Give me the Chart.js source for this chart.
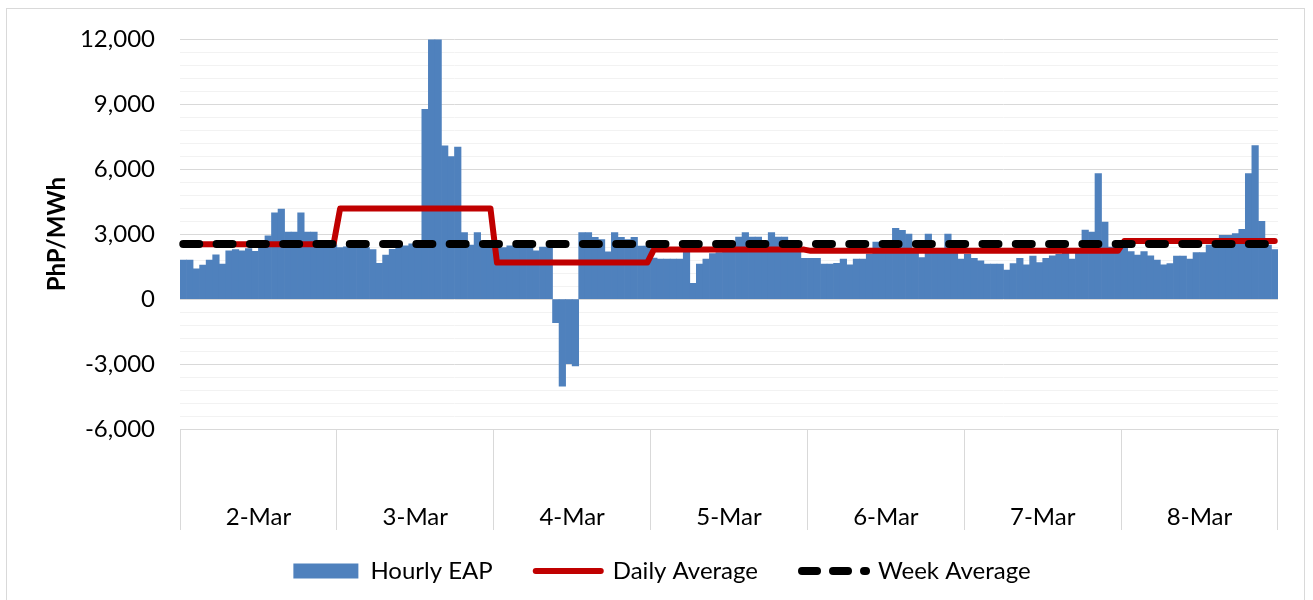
<!DOCTYPE html>
<html>
<head>
<meta charset="utf-8">
<title>Hourly EAP</title>
<script src="https://cdn.jsdelivr.net/npm/chart.js@4.4.1/dist/chart.umd.min.js"></script>
<style>
    html, body { margin: 0; padding: 0; background: #fff; }
    #wrap { position: relative; width: 1313px; height: 600px; }
    #frame { position: absolute; left: 6px; top: 8px; width: 1299px; height: 600px; border: 1px solid #d9d9d9; box-sizing: border-box; }
    #chart-box { position: absolute; left: 0; top: 0; width: 1313px; height: 600px; }
</style>
</head>
<body>
<div id="wrap">
    <div id="frame"></div>
    <div id="chart-box"><canvas id="eap-chart"></canvas></div>
</div>
<script>
// Jours et heures
const days = ['2-Mar', '3-Mar', '4-Mar', '5-Mar', '6-Mar', '7-Mar', '8-Mar'];
const hoursPerDay = 24;

// Prix horaires (PhP/MWh)
const eapMar2 = [1800, 1800, 1400, 1570, 1800, 2050, 1620, 2230, 2290, 2230, 2330, 2210, 2490, 2920, 3990, 4160, 3100, 3100, 3990, 3100, 3100, 2600, 2600, 2500];
const eapMar3 = [2380, 2420, 2420, 2420, 2380, 2290, 1650, 2040, 2300, 2450, 2460, 2550, 2580, 8770, 12000, 12000, 7080, 6590, 7020, 3070, 2500, 3070, 2500, 2450];
const eapMar4 = [2460, 2380, 2460, 2460, 2460, 2460, 2230, 2410, 2410, -1090, -4020, -2980, -3080, 3070, 3070, 2850, 2750, 2180, 3070, 2850, 2750, 2850, 2450, 2450];
const eapMar5 = [1900, 1850, 1850, 1850, 1850, 2200, 730, 1620, 1850, 2100, 2150, 2300, 2600, 2870, 3070, 2870, 2870, 2700, 3070, 2870, 2870, 2600, 2600, 1890];
const eapMar6 = [1890, 1890, 1620, 1620, 1650, 1850, 1580, 1850, 1850, 2080, 2640, 2600, 2600, 3270, 3180, 3000, 2300, 1920, 3000, 2300, 2200, 3000, 2300, 1850];
const eapMar7 = [2075, 1890, 1770, 1620, 1620, 1620, 1340, 1645, 1890, 1585, 1985, 1690, 1890, 2000, 2075, 2200, 1850, 2300, 3190, 3100, 5800, 3560, 2400, 2400];
const eapMar8 = [2380, 2200, 2040, 2200, 2000, 1800, 1585, 1645, 1985, 1985, 1850, 2150, 2150, 2500, 2500, 2950, 2950, 3025, 3225, 5800, 7100, 3600, 2500, 2290];

// Moyennes
const dailyAverage = [2540, 4190, 1690, 2290, 2230, 2230, 2690];
const weekAverage = 2550;

// Graduations de l'axe Y
const yMin = -6000;
const yMax = 12000;
const yMajorStep = 3000;
const yMinorStep = 600;

const hourlyEAP = [].concat(eapMar2, eapMar3, eapMar4, eapMar5, eapMar6, eapMar7, eapMar8);

const hourLabels = [];
const dailyLine = [];
const weekLine = [];
days.forEach((day, d) => {
    for (let h = 0; h < hoursPerDay; h++) {
        hourLabels.push(day + ' ' + String(h).padStart(2, '0') + ':00');
        dailyLine.push(dailyAverage[d]);
        weekLine.push(weekAverage);
    }
});

// L'axe des jours est plus haut que sa boîte : on évite que les libellés soient coupés
const extendDayAxis = {
    id: 'extendDayAxis',
    afterLayout(chart) {
        const scale = chart.scales.xDays;
        if (scale) {
            scale.bottom = scale.top + 115;
        }
    }
};

// Légende : reprendre tirets, épaisseur et extrémités des séries
function buildLegendLabels(chart) {
    const items = Chart.defaults.plugins.legend.labels.generateLabels(chart);
    items.forEach(item => {
        const ds = chart.data.datasets[item.datasetIndex];
        item.fillStyle = ds.backgroundColor;
        item.strokeStyle = ds.borderColor || ds.backgroundColor;
        item.lineWidth = ds.borderWidth || 0;
        item.lineDash = ds.borderDash ? [15, 16] : [];
        item.lineDashOffset = ds.borderDash ? -1 : 0;
        item.lineCap = ds.borderCapStyle || 'butt';
        item.pointStyle = ds.pointStyle;
    });
    return items;
}

Chart.defaults.font.family = 'Lato';
Chart.defaults.font.size = 24;
Chart.defaults.color = '#000';

const ctx = document.getElementById('eap-chart').getContext('2d');

new Chart(ctx, {
    type: 'bar',
    data: {
        labels: hourLabels,
        datasets: [
            {
                label: 'Hourly EAP',
                data: hourlyEAP,
                backgroundColor: '#4f81bd',
                borderWidth: 0,
                barPercentage: 1,
                categoryPercentage: 1,
                pointStyle: 'rect',
                order: 3
            },
            {
                type: 'line',
                label: 'Daily Average',
                data: dailyLine,
                borderColor: '#c00000',
                backgroundColor: '#c00000',
                borderWidth: 6,
                borderCapStyle: 'round',
                borderJoinStyle: 'round',
                pointRadius: 0,
                pointStyle: 'line',
                fill: false,
                order: 2
            },
            {
                type: 'line',
                label: 'Week Average',
                data: weekLine,
                borderColor: '#000',
                backgroundColor: '#000',
                borderWidth: 8,
                borderDash: [16, 17.3],
                borderCapStyle: 'round',
                pointRadius: 0,
                pointStyle: 'line',
                fill: false,
                order: 1
            }
        ]
    },
    plugins: [extendDayAxis],
    options: {
        responsive: true,
        maintainAspectRatio: false,
        animation: false,
        devicePixelRatio: 1,
        layout: {
            padding: { left: 46, right: 35, top: 37, bottom: 7 }
        },
        plugins: {
            tooltip: { enabled: false },
            legend: {
                position: 'bottom',
                labels: {
                    generateLabels: buildLegendLabels,
                    sort: (a, b) => a.datasetIndex - b.datasetIndex,
                    usePointStyle: true,
                    pointStyleWidth: 65,
                    boxWidth: 65,
                    boxHeight: 15,
                    padding: 43,
                    color: '#000',
                    font: { size: 24 }
                }
            }
        },
        scales: {
            x: {
                display: false,
                offset: true
            },
            xDays: {
                type: 'category',
                labels: days,
                position: 'bottom',
                offset: true,
                grid: {
                    offset: true,
                    drawOnChartArea: false,
                    drawTicks: true,
                    tickLength: 101,
                    color: '#d9d9d9'
                },
                border: { display: true, color: '#d9d9d9' },
                ticks: {
                    padding: -27,
                    maxRotation: 0,
                    autoSkip: false,
                    color: '#000',
                    font: { size: 24 }
                },
                afterFit: (scale) => { scale.height = 87; }
            },
            y: {
                min: yMin,
                max: yMax,
                grid: {
                    drawTicks: false,
                    color: (c) => (c.tick && c.tick.value % yMajorStep === 0) ? '#d9d9d9' : '#f2f2f2'
                },
                border: { display: false },
                ticks: {
                    stepSize: yMinorStep,
                    autoSkip: false,
                    padding: 25,
                    color: '#000',
                    font: { size: 24 },
                    callback: function(value) {
                        if (value % yMajorStep !== 0) {
                            return '';
                        }
                        return value.toLocaleString('en-US');
                    }
                },
                title: {
                    display: true,
                    text: 'PhP/MWh',
                    color: '#000',
                    padding: { top: 0, bottom: 0 },
                    font: { size: 24, weight: 'bold', lineHeight: 0.9 }
                },
                afterFit: (scale) => { scale.width = 134; }
            }
        }
    }
});
</script>
</body>
</html>
